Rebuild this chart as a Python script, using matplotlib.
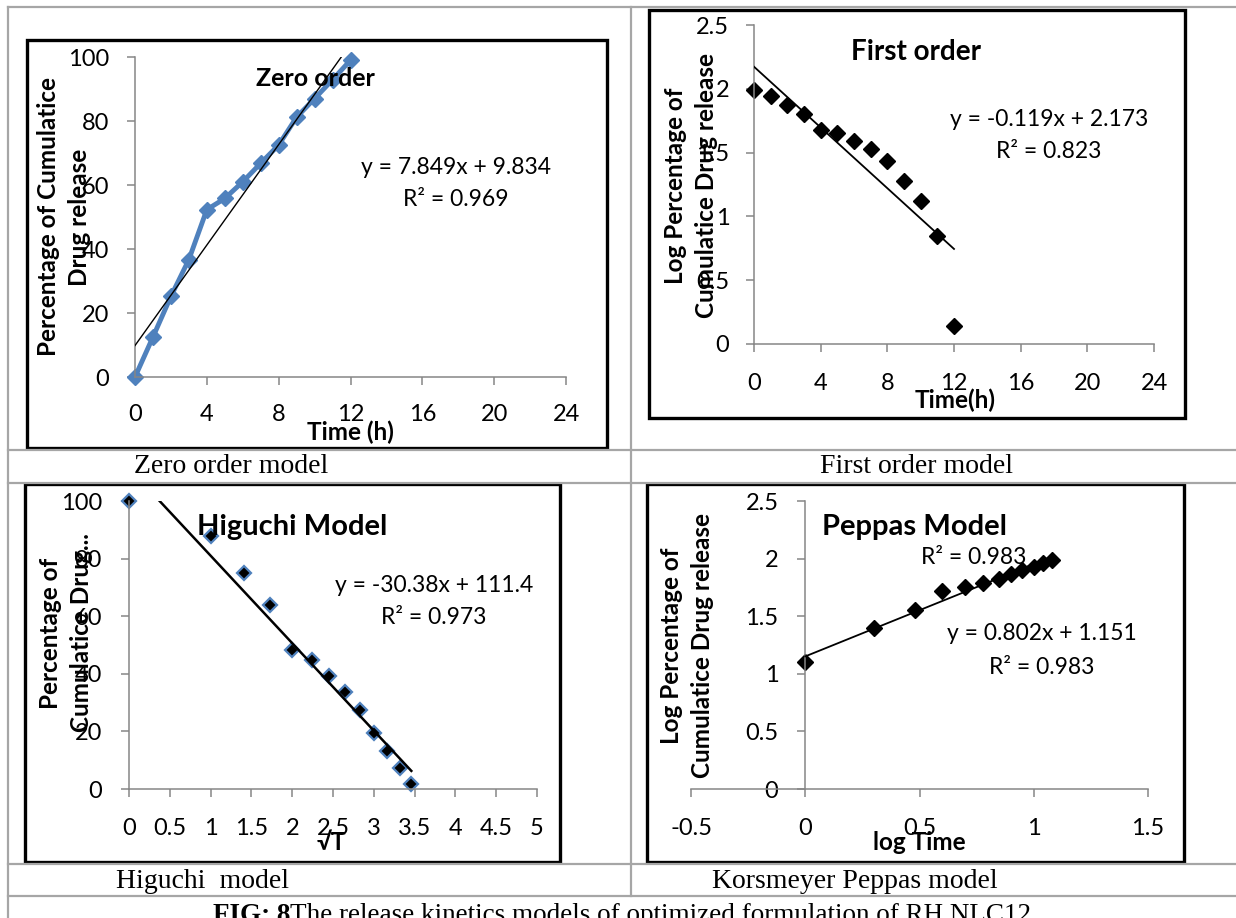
import matplotlib.pyplot as plt
from matplotlib.lines import Line2D
from matplotlib.patches import Rectangle

plt.rcParams['font.family'] = ['Lato', 'DejaVu Sans']

W, H = 1236, 918

# zero order: cumulative % drug released against time (h)
time_h = [0, 1, 2, 3, 4, 5, 6, 7, 8, 9, 10, 11, 12]
released = [0, 12.5, 25.2, 36.7, 52.3, 55.8, 61.0, 66.8, 72.5, 81.2, 87.0, 92.9, 99.0]
zero_fit = (7.849, 9.834, 0.969)

# first order: log % drug remaining against time (h)
log_remaining = [1.99, 1.94, 1.874, 1.803, 1.678, 1.652, 1.594, 1.527, 1.435, 1.279, 1.117, 0.843, 0.138]
first_fit = (-0.119, 2.173, 0.823)

# higuchi: % remaining against square root of time
sqrt_t = [0, 1, 1.41, 1.73, 2, 2.24, 2.45, 2.65, 2.83, 3, 3.16, 3.32, 3.46]
remaining = [100, 87.7, 75.1, 64.0, 48.2, 44.7, 39.2, 33.8, 27.6, 19.3, 13.3, 7.2, 1.7]
higuchi_fit = (-30.38, 111.4, 0.973)

# korsmeyer peppas: log % released against log time
log_t = [0, 0.30, 0.48, 0.60, 0.70, 0.78, 0.85, 0.90, 0.95, 1.0, 1.04, 1.08]
log_released = [1.10, 1.40, 1.553, 1.72, 1.75, 1.784, 1.827, 1.862, 1.90, 1.923, 1.966, 1.99]
peppas_fit = (0.802, 1.151, 0.983)

time_ticks = [0, 4, 8, 12, 16, 20, 24]
pct_ticks = [0, 20, 40, 60, 80, 100]
log_ticks = [0, 0.5, 1, 1.5, 2, 2.5]
log_tick_labels = ['0', '0.5', '1', '1.5', '2', '2.5']
sqrt_ticks = [0, 0.5, 1, 1.5, 2, 2.5, 3, 3.5, 4, 4.5, 5]
sqrt_tick_labels = ['0', '0.5', '1', '1.5', '2', '2.5', '3', '3.5', '4', '4.5', '5']
logt_ticks = [-0.5, 0, 0.5, 1, 1.5]
logt_tick_labels = ['-0.5', '0', '0.5', '1', '1.5']

BLUE = '#4F81BD'
GREY = '#868686'
TICK_FS = 17
LABEL_FS = 17.5
EQ_FS = 16.5
CAP_FS = 20


def px(x, y):
    return x / W, 1 - y / H


def add_axes(fig, x0, y0, x1, y1):
    return fig.add_axes([x0 / W, 1 - y1 / H, (x1 - x0) / W, (y1 - y0) / H])


def style(ax, xpad, ypad):
    for s in ['top', 'right']:
        ax.spines[s].set_visible(False)
    for s in ['left', 'bottom']:
        ax.spines[s].set_color(GREY)
        ax.spines[s].set_linewidth(1.1)
    ax.tick_params(length=5.8, width=1.1, color=GREY, labelsize=TICK_FS)
    ax.tick_params(axis='x', pad=xpad)
    ax.tick_params(axis='y', pad=ypad)
    ax.set_facecolor('none')


def fig_text(fig, x, y, s, size=EQ_FS, bold=False, rot=0, family=None, spacing=1.2):
    kw = {}
    if family:
        kw['family'] = family
    return fig.text(*px(x, y), s, ha='center', va='center', fontsize=size,
                    fontweight='bold' if bold else 'normal', rotation=rot,
                    multialignment='center', linespacing=spacing, **kw)


def ylabel(fig, x, y, s):
    return fig_text(fig, x, y, s, size=LABEL_FS, bold=True, rot=90, spacing=1.4)


def trend(ax, xs, fit, lw):
    a, b, _ = fit
    x0, x1 = min(xs), max(xs)
    ax.plot([x0, x1], [a * x0 + b, a * x1 + b], color='black', lw=lw, zorder=3)


fig = plt.figure(figsize=(W / 100, H / 100), dpi=100)

# table rules
rule = dict(color='#a6a6a6', lw=1.6, transform=fig.transFigure)
for y in [7, 450, 483, 864, 896]:
    fig.add_artist(Line2D([8 / W, 1], [1 - y / H] * 2, **rule))
fig.add_artist(Line2D([8 / W] * 2, [1 - 7 / H, 0], **rule))
fig.add_artist(Line2D([631 / W] * 2, [1 - 7 / H, 1 - 896 / H], **rule))

# chart frames
for x0, y0, x1, y1 in [(27, 40, 607, 448), (649, 10, 1185, 418),
                       (25, 484, 560, 862), (647, 484, 1184, 862)]:
    fig.add_artist(Rectangle((x0 / W, 1 - y1 / H), (x1 - x0) / W, (y1 - y0) / H,
                             transform=fig.transFigure, fill=False,
                             edgecolor='black', lw=2.4))

# zero order
ax = add_axes(fig, 135, 57, 566, 377)
ax.plot(time_h, released, color=BLUE, lw=3.5, marker='D', ms=8,
        mfc=BLUE, mec=BLUE, clip_on=False, zorder=2)
trend(ax, time_h, zero_fit, 1.0)
ax.set_xlim(0, 24)
ax.set_ylim(0, 100)
ax.set_xticks(time_ticks)
ax.set_yticks(pct_ticks)
style(ax, 13.5, 13)
ylabel(fig, 64, 217, 'Percentage of Cumulatice\nDrug release')
fig_text(fig, 315, 79, 'Zero order', size=18, bold=True)
fig_text(fig, 350, 432, 'Time (h)', size=LABEL_FS, bold=True)
fig_text(fig, 456, 167, f'y = {zero_fit[0]}x + {zero_fit[1]}')
fig_text(fig, 456, 199, f'R² = {zero_fit[2]}')

# first order
ax = add_axes(fig, 754, 25, 1154, 344)
ax.plot(time_h, log_remaining, ls='none', marker='D', ms=8.5, color='black',
        clip_on=False, zorder=2)
trend(ax, time_h, first_fit, 1.3)
ax.set_xlim(0, 24)
ax.set_ylim(0, 2.5)
ax.set_xticks(time_ticks)
ax.set_yticks(log_ticks, log_tick_labels)
style(ax, 15, 12)
ylabel(fig, 691, 186, 'Log Percentage of\nCumulatice Drug release')
fig_text(fig, 916, 52, 'First order', size=20, bold=True)
fig_text(fig, 955, 400, 'Time(h)', size=LABEL_FS, bold=True)
fig_text(fig, 1049, 120, f'y = {first_fit[0]}x + {first_fit[1]}')
fig_text(fig, 1049, 152, f'R² = {first_fit[2]}')

# higuchi
ax = add_axes(fig, 129, 501, 537, 789)
ax.plot(sqrt_t, remaining, ls='none', marker='D', ms=7.5, mfc='black',
        mec=BLUE, mew=1.6, clip_on=False, zorder=2)
trend(ax, sqrt_t, higuchi_fit, 1.8)
ax.set_xlim(0, 5)
ax.set_ylim(0, 100)
ax.set_xticks(sqrt_ticks, sqrt_tick_labels)
ax.set_yticks(pct_ticks)
style(ax, 15, 13.5)
ylabel(fig, 66, 633, 'Percentage of\nCumulatice Drug...')
fig_text(fig, 292, 527, 'Higuchi Model', size=21, bold=True)
fig_text(fig, 331, 843, '√T', size=LABEL_FS, bold=True)
fig_text(fig, 434, 585, f'y = {higuchi_fit[0]}x + {higuchi_fit[1]}')
fig_text(fig, 434, 617, f'R² = {higuchi_fit[2]}')

# korsmeyer peppas
ax = add_axes(fig, 691, 501, 1148, 789)
ax.plot(log_t, log_released, ls='none', marker='D', ms=8, color='black',
        clip_on=False, zorder=2)
trend(ax, log_t, peppas_fit, 1.3)
ax.set_xlim(-0.5, 1.5)
ax.set_ylim(0, 2.5)
ax.spines['left'].set_position(('data', 0))
ax.set_xticks(logt_ticks, logt_tick_labels)
ax.set_yticks(log_ticks, log_tick_labels)
style(ax, 15, 13.5)
ylabel(fig, 687, 646, 'Log Percentage of\nCumulatice Drug release')
fig_text(fig, 914, 527, 'Peppas Model', size=21, bold=True)
fig_text(fig, 974, 558, f'R² = {peppas_fit[2]}')
fig_text(fig, 919, 843, 'log Time', size=LABEL_FS, bold=True)
fig_text(fig, 1042, 634, f'y = {peppas_fit[0]}x + {peppas_fit[1]}')
fig_text(fig, 1042, 667, f'R² = {peppas_fit[2]}')

# captions
serif = ['Liberation Serif', 'DejaVu Serif']
fig_text(fig, 231, 466, 'Zero order model', size=CAP_FS, family=serif)
fig_text(fig, 917, 466, 'First order model', size=CAP_FS, family=serif)
fig_text(fig, 202, 882, 'Higuchi  model', size=CAP_FS, family=serif)
fig_text(fig, 855, 882, 'Korsmeyer Peppas model', size=CAP_FS, family=serif)

head = fig.text(213 / W, 1 - 922 / H, 'FIG: 8', fontsize=19.5, fontweight='bold',
                family=serif, ha='left', va='baseline')
bb = head.get_window_extent(renderer=fig.canvas.get_renderer())
fig.text(bb.x1 / W, 1 - 922 / H,
         'The release kinetics models of optimized formulation of RH NLC12',
         fontsize=19.5, family=serif, ha='left', va='baseline')

fig.savefig('out.png', dpi=100)
